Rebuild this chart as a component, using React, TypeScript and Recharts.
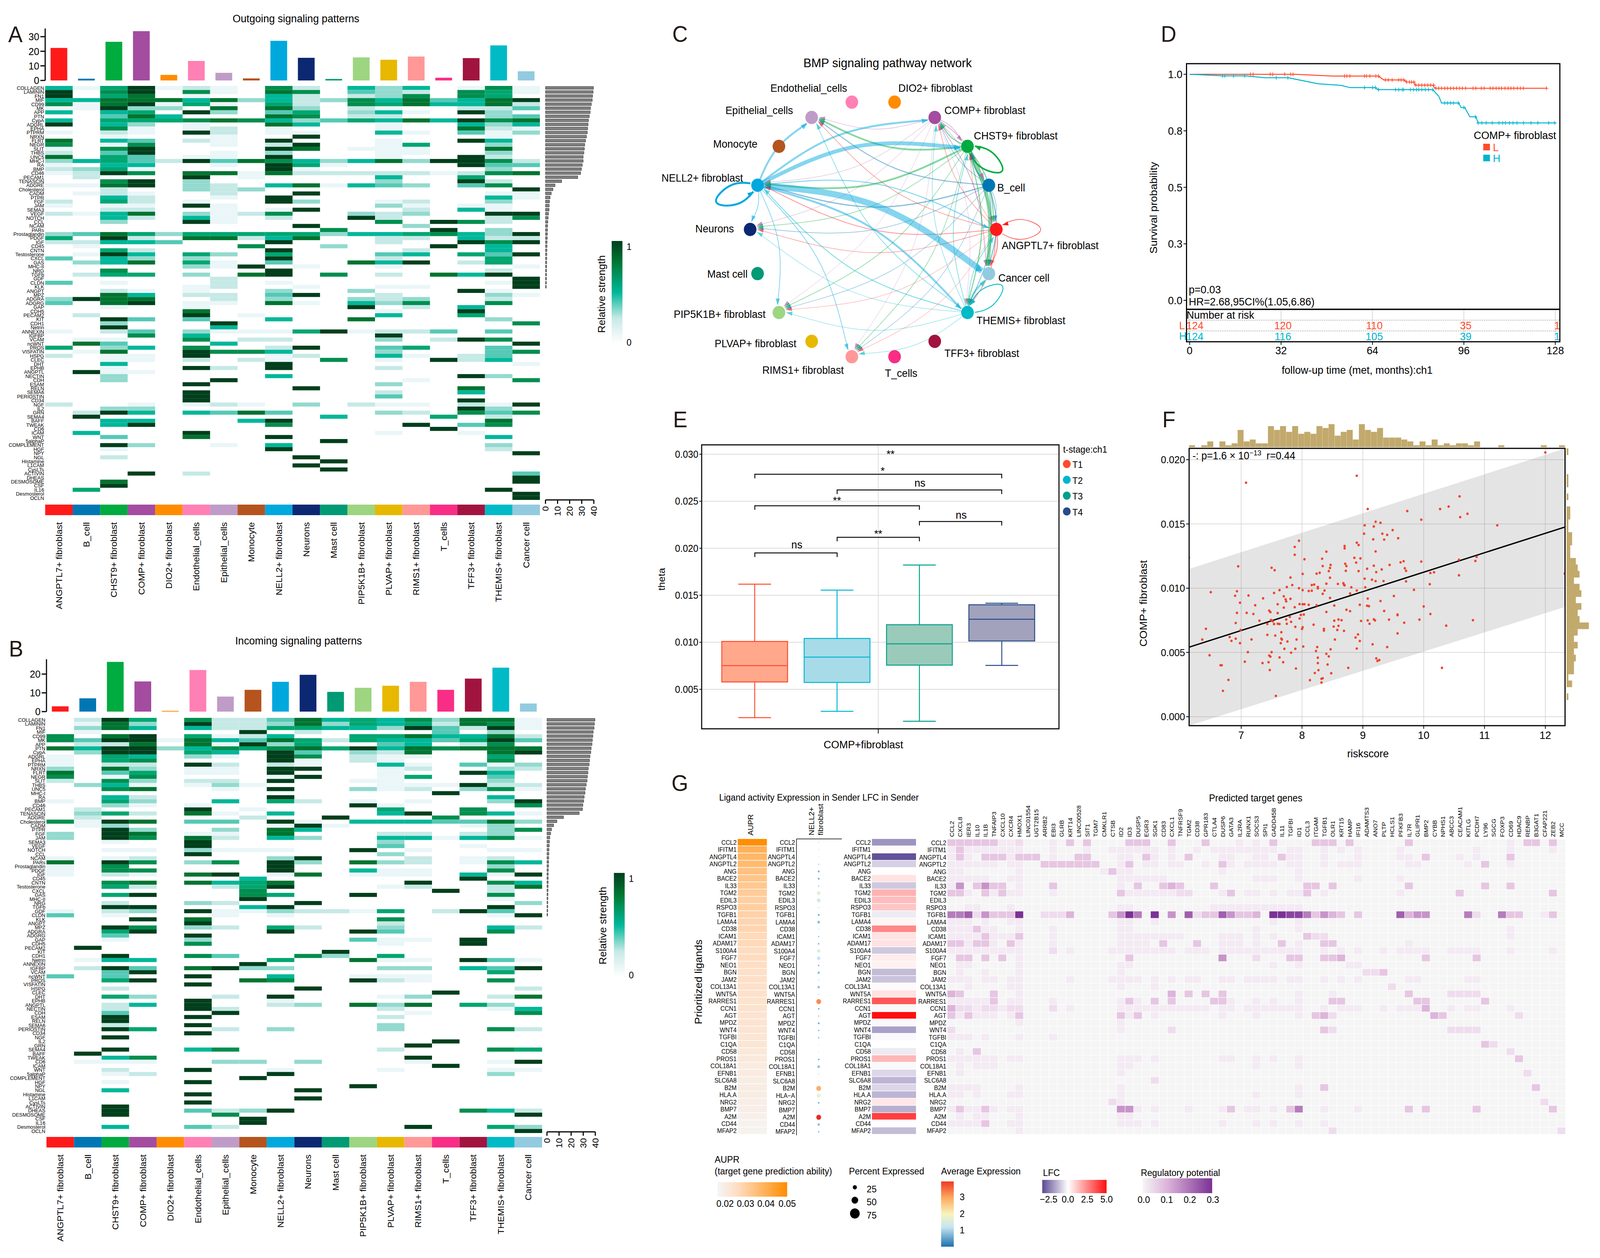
import React from 'react';
import {
  Area, Bar, BarChart, CartesianGrid, Cell, ComposedChart, Line, ReferenceLine,
  Scatter, ScatterChart, XAxis, YAxis,
} from 'recharts';

const FONT = '"Liberation Sans", Arial, sans-serif';
const ZERO = { top: 0, right: 0, bottom: 0, left: 0 };

const cellTypes = [
  'ANGPTL7+ fibroblast', 'B_cell', 'CHST9+ fibroblast', 'COMP+ fibroblast', 'DIO2+ fibroblast',
  'Endothelial_cells', 'Epithelial_cells', 'Monocyte', 'NELL2+ fibroblast', 'Neurons', 'Mast cell',
  'PIP5K1B+ fibroblast', 'PLVAP+ fibroblast', 'RIMS1+ fibroblast', 'T_cells', 'TFF3+ fibroblast',
  'THEMIS+ fibroblast', 'Cancer cell',
];
const cellColors = [
  '#FF1A1A', '#0077B4', '#00AB40', '#A34CA0', '#FF8C00', '#FF80B5', '#BF9CC8', '#B5541E', '#00A8DD',
  '#0C2872', '#009A74', '#9DD581', '#E7B800', '#FF9896', '#F92D85', '#A11440', '#00BAC6', '#92CADF',
];

const pathways = [
  'COLLAGEN', 'LAMININ', 'FN1', 'MIF', 'CD99', 'MK', 'APP', 'PTN', 'CypA', 'ADGRL', 'EPHA', 'PTPRM', 'NRXN',
  'FLRT', 'NEGR', 'SLIT', 'THBS', 'UNC5', 'MHC-I', 'RA', 'BMP', 'CD46', 'PECAM1', 'TENASCIN', 'ADGRE',
  'Cholesterol', 'CADM', 'PTPR', 'FGF', 'JAM', 'SEMA3', 'VEGF', 'NOTCH', 'CCL', 'NCAM', 'PARs', 'Prostaglandin',
  'PDGF', 'IGF', 'CD45', 'CNTN', 'Testosterone', 'CXCL', 'GAS', 'MHC-II', 'NRG', 'TGFb', 'GDF', 'CLDN', 'KLK',
  'ANGPT', 'MPZ', 'ADGRA', 'ADGRG', 'GAP', 'CDH5', 'PECAM2', 'KIT', 'CDH1', 'Netrin', 'ANNEXIN', 'IGFBP', 'VCAM',
  'ncWNT', 'PROS', 'VISFATIN', 'HSPG', 'CLEC', 'DHT', 'EPHB', 'ANGPTL', 'NECTIN', 'CDH', 'ESAM', 'RELN', 'SEMA6',
  'PERIOSTIN', 'CD34', 'NGF', 'IL2', 'GRN', 'SEMA4', 'BAFF', 'TWEAK', 'CD6', 'ICAM', 'WNT', '5alphaP', 'COMPLEMENT',
  'HGF', 'NPY', 'NGL', 'Histamine', 'L1CAM', 'CysLTs', 'ACTIVIN', 'DHEAS', 'DESMOSOME', 'CSF', 'IL16', 'Desmosterol',
  'OCLN',
];

// relative strength per pathway, one character per cell type: . = 0, 1..9 = light to dark
const outgoingRows = [
  '5169121.72.535.171', '9.79.71.87.432.761', '9.68.1..52.237.76.', '558885835237584589', '7189161.62.7685582',
  '11933.8.83.21..224', '5.56.93.46.351.93.', '..485...87.22...34', '5.6667875346585978', '9.53.1..85..1..535',
  '..71.12.1...1..821', '1.21.92.11..51.413', '..1...1..9......1.', '8.54.21.9...1..95.', '7.17..1.29..16..3.',
  '1.79....98.111..8.', '2.49..1.3...11..3.', '8.64.11.9...1..92.', '356429487535839972', '1.55..1.961....944',
  '2361....91......3.', '1297.8818222221278', '.2...9.1....5..6..', '..79.3......3..92.', '1189.32.581543.47.',
  '..2..323.........9', '.121..2..9......11', '..52..1.9.......51', '2.62.1..93..12..3.', '1.11.91.....31.11.',
  '..22..1.19...2.51.', '2158.3127..323..99', '..52.51.2..92...27', '..3..91.....7.972.', '.........9...3....',
  '..........7...9.3.', '348636666635567539', '6.92.88258..22.522', '22554...9...2..979', '.1.....7..3...9.5.',
  '..62....9....2..5.', '.195.63.6...45.649', '4.53.3..9...2...6.', '.358.61.4..859.26.', '.....319.1..1....1',
  '..7.....9.......2.', '.266.3.89.7.2.859.', '......2..........9', '4.1...2.1.......19', '.....12..1..11...9',
  '..21.1..3..3...91.', '..85.22.49..2...31', '3988..2.3..323..2.', '4.89.11.81.537..7.', '..1..1.....9.2.5..',
  '.....8......1..9..', '.2...9.1....5..6..', '..94.4..5..8....3.', '..3...9..........7', '..9...5...........',
  '1.24.3111691224.4.', '...7.5......9.....', '.11..7.22...3.297.', '.84...5..........9', '6.35.7..29..46..4.',
  '.18..9775...3...47', '2.11.9..12..51.24.', '..11.2.21.7.1.925.', '..5.....9........1', '..1..92.9...2.....',
  '.911..............', '..3.....5......93.', '..3...9......1...7', '.....9......3.....', '.........9.....8..',
  '.....9......2..5..', '.....9......4.....', '.....9.........9..', '2..1.121.3.211.219', '..33...........93.',
  '.295.5484...32.747', '.9........5...6.2.', '..55...59.......8.', '..59....7....9.47.', '..............9...',
  '.5...9......1..1..', '..4..8..9.......5.', '..........9.......', '..93..1.5.......3.', '..1.....9.......2.',
  '.................9', '..2......9........', '..........9.......', '.........9........', '..........9.......',
  '...9.2...........4', '.................9', '..8..............9', '..9...............', '.6..............9.',
  '.................9', '.................9',
];
const incomingRows = [
  '.296.7224856573881', '.183.9223836562871', '.385.5226655394291', '.1.....9.2....4.3.', '7.89.6125..6685582',
  '749918548626554694', '.228.81936..45.27.', '859935767869587888', '.399.65.94.328..89', '1.65.31.97.211..6.',
  '1.67....91.21...7.', '1.22.92.21..51.413', '3.83.11.99..12..32', '8.46.11.9...1..95.', '7.17....19..16..4.',
  '2.73.22.9..11...3.', '.351.131....111922', '..78..1.9..312.371', '..............9...', '..52....9.......5.',
  '1.63..5.62.1.1..39', '..31.1.....91....7', '.2...9.1....6..7..', '.362.81.5...59.751', '.2.....2..9...7...',
  '7198.44.91.5554483', '.13.....191....13.', '..93..3.85......37', '3.98.11.8...22.23.', '3.97.82.53..551571',
  '..1..9......3.....', '.....9......4..1..', '..11.3111..9.1..11', '.....9......3.....', '1.12....39...2.12.',
  '8.97.37.93.832.175', '1.7.....9.......3.', '1.77....9..511..7.', '1.21.89.18.111.519', '.......5.......9..',
  '..78.8568....9..75', '..62..269...12..28', '.......7......9.2.', '..69...76..9....7.', '.......9........1.',
  '..2..32..9.......3', '..99...59.......9.', '1.23.91132216.294.', '4.1...1.1.......19', '...9.8......7.....',
  '.....9......2.....', '..97.32.62..3...52', '..69....9..94...7.', '..4..9............', '..1..3.....411.9..',
  '.....7......1..9..', '.9................', '..........9.......', '..9..74..73.6.....', '.155....6..811.941',
  '.......9..........', '.294.8933...33.549', '..49............6.', '4.4..9..5..111....', '..69...87..921..7.',
  '.....9............', '..2......9.......2', '..............9...', '..63..2.9...13..28', '.....9..1.........',
  '..25.9..23.838.63.', '..2..92.....2...15', '..4...9......1...7', '..9..9......2.....', '..9...............',
  '..2..9......3.....', '..96..2.3...3...72', '.....9............', '..9...............', '..............9...',
  '.............9....', '..9..57.....2...76', '.9................', '..57.........9....', '.111..33.3...1..19',
  '..............9...', '..2..9..1...1...11', '..12....9.......3.', '.......9..........', '..1..9............',
  '...........9......', '..5......9........', '.....9............', '.........9........', '.....9............',
  '..9...............', '..9..4239......752', '..9...7..........9', '.......9..........', '.......9..........',
  '..5..42......9..63', '.................9',
];
const strengthPalette = [
  '#FFFFFF', '#EAF6F8', '#C6E9E6', '#93DACE', '#55C9B5', '#00B799', '#00A671', '#008E4E', '#007430', '#003F1C',
];

const outgoingTotals = [22.3, 1.2, 26.5, 33.8, 3.8, 13.4, 5.2, 1.4, 27.2, 15.5, 1, 15.8, 14.2, 16.4, 1.9, 15.3, 24, 6.3];
const incomingTotals = [2.8, 7.1, 26.5, 16.1, 0.4, 22.2, 8, 11.6, 15.9, 19.6, 10.5, 12.7, 13.8, 15.9, 11.6, 17.6, 23.4, 4.3];
const outgoingPathwayTotals = [
  39.7, 39.4, 39, 38.7, 38, 37.3, 37, 36.3, 35.6, 35.3, 34.9, 34.6, 33.9, 33.2, 32.5, 32.2, 31.8, 31.2, 31.2, 30.5, 29.8,
  29.1, 26.7, 13.4, 7.9, 6.2, 4.8, 3.8, 3.4, 3.1, 3, 2.5, 2.2, 2, 1.8, 1.7, 1.6, 1.5, 1.4, 1.3, 1.2, 1.15, 1.1, 1.05, 1, 0.95,
  0.9, 0.85, 0.8, 0.7,
];
const incomingPathwayTotals = [
  39.7, 39.3, 39, 38.3, 38, 37.6, 37.3, 36.6, 36.3, 35.6, 35.2, 34.9, 34.2, 33.9, 33.5, 33.2, 32.5, 31.8, 31.5, 30.8, 30.4,
  29.7, 29.4, 26.7, 13.7, 8.2, 5.5, 3.8, 3.1, 2.4, 2.1, 1.9, 1.7, 1.6, 1.5, 1.4, 1.3, 1.2, 1.1, 1.05, 1, 0.95, 0.9, 0.85, 0.8,
  0.75, 0.7, 0.65, 0.6,
];

// panel C: [sender, receiver, edge width]
const bmpEdges: [number, number, number][] = [
  [0, 6, 1.5], [0, 8, 2], [0, 9, 1.5], [0, 11, 1], [0, 13, 1], [0, 16, 2], [0, 17, 3], [0, 3, 1.5], [0, 2, 1.2],
  [3, 6, 1.2], [3, 8, 1], [3, 9, 1], [3, 11, 0.8], [3, 13, 0.8], [3, 16, 0.8], [3, 17, 2], [3, 0, 1.2], [3, 2, 1.5], [3, 1, 2],
  [16, 6, 1.8], [16, 8, 2.5], [16, 9, 1.2], [16, 11, 1.2], [16, 13, 1.2], [16, 3, 1.5], [16, 2, 2], [16, 17, 5], [16, 0, 2],
  [1, 8, 3], [1, 6, 2.5], [1, 9, 1.5], [1, 11, 1.2], [1, 13, 1.2], [1, 16, 2], [1, 17, 3], [1, 0, 1.5], [1, 2, 4], [1, 3, 1.5],
  [2, 17, 10], [2, 6, 4.5], [2, 8, 4.5], [2, 3, 3], [2, 9, 1.5], [2, 11, 1.5], [2, 13, 1.5], [2, 16, 3], [2, 0, 3],
  [8, 17, 16], [8, 2, 10], [8, 3, 5], [8, 6, 5], [8, 16, 5], [8, 0, 2.5], [8, 9, 2], [8, 11, 2], [8, 13, 2],
];
// [node, direction in degrees, reach, edge width]
const bmpLoops: [number, number, number, number][] = [
  [8, 201, 0.36, 5], [2, -34, 0.34, 4], [0, 0, 0.36, 1.2], [16, 36, 0.35, 2.2],
];

// panel D
const lowCurve = [
  [0, 1], [37, 1], [50, 0.992], [66, 0.992], [68, 0.975], [75, 0.975], [76, 0.966], [78.5, 0.965], [79, 0.952], [85, 0.952],
  [86, 0.938], [125, 0.938],
];
const highCurve = [
  [0, 1], [11.8, 0.993], [19.6, 0.993], [26.3, 0.985], [34.4, 0.985], [45, 0.958], [52.9, 0.951], [56.2, 0.941], [65, 0.941],
  [66, 0.932], [85.1, 0.932], [87.2, 0.903], [88.2, 0.873], [94.2, 0.873], [95, 0.853], [96.3, 0.853], [98.1, 0.812],
  [100.2, 0.812], [101, 0.785], [128.3, 0.785],
];
const lowCensored: [number, number[]][] = [
  [1, [21.3, 22.2, 28.2, 29.1, 33.3, 35.4, 36.2]],
  [0.992, [54.2, 55, 56.1, 61.2, 61.9, 63.1, 65.2, 66.1]],
  [0.975, [68.5, 69.5, 70.9, 73.2, 74, 75]],
  [0.966, [76, 76.9, 77.7, 78.5]],
  [0.952, [79.2, 80.2, 81.3, 82.3, 83.4, 84.4, 85.4]],
  [0.938, [86.2, 87.2, 88.2, 89.3, 90.3, 91.4, 92.4, 93.5, 94.5, 95.5, 96.6, 99.2, 100.2, 102.1, 103.1, 105.2, 106.2, 107.3,
    108.3, 109.2, 110.4, 111.5, 112.5, 113.5, 114.7, 115.8, 116.8, 124.9]],
];
const highCensored: [number, number[]][] = [
  [0.993, [11.5, 12.3, 15.4, 19.3]],
  [0.985, [30.3, 34.4]],
  [0.941, [61.2, 64.1, 65]],
  [0.932, [66.1, 72.1, 73.2, 74.4, 74.9, 77.3, 78.4, 79.4, 80.2, 81.3, 82.5, 83.6, 85.1]],
  [0.873, [89.3, 90.3, 91.4, 92.4, 94]],
  [0.853, [96]],
  [0.812, [100]],
  [0.785, [101, 102.3, 103.8, 105.9, 108.3, 109.6, 110.6, 111.9, 113.2, 114.6, 116.9, 119.5, 121.9, 125.7, 127.8]],
];
const riskTimes = [0, 32, 64, 96, 128];
const riskLow = [124, 120, 110, 35, 1];
const riskHigh = [124, 116, 105, 39, 1];

// panel E: lo, q1, median, q3, hi
const tStages = ['T1', 'T2', 'T3', 'T4'];
const stageLo = [0.00198, 0.00266, 0.0016, 0.00754];
const stageQ1 = [0.00578, 0.00573, 0.00757, 0.01014];
const stageMed = [0.00752, 0.00842, 0.00983, 0.01245];
const stageQ3 = [0.01009, 0.01041, 0.01187, 0.01399];
const stageHi = [0.01618, 0.01555, 0.01822, 0.01416];
const stageStroke = ['#FF4B2B', '#00B5D1', '#00A088', '#274C86'];
const stageFill = ['#FFA88C', '#A7DBE8', '#9ACABA', '#A2A2BD'];
const brackets: [number, number, number][] = [
  [1, 2, 0.0195], [2, 3, 0.02117], [3, 4, 0.02285], [1, 3, 0.02452], [2, 4, 0.0262], [1, 4, 0.02787],
];

// panel F
const riskScore = [
  12, 8.9, 7.08, 10.59, 10.41, 9.08, 10.27, 9.73, 10.72, 10.6, 9.96, 9.21, 9.29, 9.03, 9.18, 11.21, 9.49, 9.02, 9.32, 9.4, 9.58,
  9.17, 9.35, 7.95, 8.9, 8.93, 8.7, 7.88, 8.7, 8.4, 9.21, 7.88, 6.14, 8.33, 8.04, 8.86, 8.96, 10.87, 10.58, 10.85, 9.67, 9.62,
  9.96, 8.89, 8.71, 8.47, 9.44, 9.18, 8.73, 8.34, 6.95, 7.5, 8.46, 9.07, 9.69, 9.31, 7.55, 8.44, 8.72, 8.93, 9.71, 9.22, 10.17,
  10.11, 8.29, 8.24, 8.01, 12.32, 10.58, 8.46, 7.81, 9.03, 9.15, 9.21, 9.34, 9.71, 10.1, 8.4, 8.59, 8.68, 8.69, 8.7, 7.84, 8.16,
  8.2, 7.75, 8.26, 8.26, 8.81, 9.04, 7.95, 8.01, 8.11, 8.16, 8.37, 7.63, 8.9, 9.84, 6.93, 6.5, 7.54, 8.79, 8.34, 6.9, 7.12, 7.7,
  9.51, 7.36, 8.46, 7.73, 7.81, 9.08, 7.74, 9.29, 6.98, 7.96, 7.6, 8.01, 8.04, 8.11, 8.95, 7.23, 8.24, 8.53, 9.07, 9.1, 10, 7.88,
  7.7, 8.73, 7.46, 8.79, 9.35, 7.48, 8.4, 6.93, 7.09, 7.6, 7.2, 10.11, 9.57, 9.57, 7.98, 8.03, 7.8, 7.96, 7.74, 8.6, 9.18, 9.93,
  8.65, 9.43, 7.3, 7.49, 8.53, 8.97, 9.08, 9.2, 10.81, 7.52, 7.82, 6.91, 9.68, 7.43, 7.54, 7.6, 7.63, 7.75, 8.19, 9.11, 10.37,
  8.6, 8.52, 7.89, 8.01, 8, 6.42, 6.99, 8.36, 8.36, 8.58, 8.69, 7.66, 9.57, 8.92, 7.43, 7.56, 6.81, 8.88, 6.91, 7.66, 7.67, 7.17,
  7.91, 8.54, 6.36, 6.84, 7.76, 8.95, 6.98, 7.65, 9.16, 8.02, 8.25, 9.4, 7.71, 7.89, 8.47, 8.9, 8.23, 7.5, 7.11, 7.82, 8.4, 6.48,
  7.46, 7.48, 8.44, 7.63, 8.26, 9.22, 9.27, 9.24, 7.06, 7.45, 7.69, 7.35, 8.26, 8.42, 6.66, 6.68, 8.76, 10.3, 7.9, 7.47, 8.27,
  8.21, 8.48, 6.79, 8.13, 8.34, 8.32, 8.32, 6.7, 7.57,
];
const compTheta = [
  0.02056, 0.01875, 0.01821, 0.01714, 0.01635, 0.01616, 0.01616, 0.016, 0.01579, 0.01553, 0.01533, 0.01517, 0.01509, 0.01489,
  0.0148, 0.01489, 0.01452, 0.01424, 0.01424, 0.01415, 0.01389, 0.0138, 0.01378, 0.01369, 0.01354, 0.01336, 0.01328, 0.01321,
  0.0131, 0.01284, 0.01286, 0.0126, 0.01238, 0.01229, 0.01225, 0.01236, 0.01232, 0.01244, 0.01221, 0.01212, 0.0121, 0.01201,
  0.01207, 0.01199, 0.0119, 0.01181, 0.01181, 0.01175, 0.01172, 0.01172, 0.0117, 0.01159, 0.01157, 0.01151, 0.01155, 0.01146,
  0.0114, 0.01133, 0.01135, 0.01133, 0.01135, 0.01125, 0.01124, 0.01118, 0.0112, 0.01113, 0.01111, 0.01114, 0.011, 0.01081,
  0.01083, 0.01074, 0.01066, 0.01055, 0.01055, 0.01053, 0.01031, 0.01035, 0.01033, 0.01039, 0.01026, 0.01022, 0.01024, 0.01024,
  0.01028, 0.01009, 0.01009, 0.00998, 0.01007, 0.01007, 0.01, 0.00985, 0.00978, 0.0098, 0.00982, 0.00985, 0.00982, 0.00987,
  0.00976, 0.00969, 0.00963, 0.00959, 0.00956, 0.00941, 0.00943, 0.00937, 0.00939, 0.00921, 0.00924, 0.00913, 0.00917, 0.00919,
  0.00897, 0.009, 0.00887, 0.00876, 0.00875, 0.00875, 0.00875, 0.00871, 0.00871, 0.00867, 0.00867, 0.00865, 0.00863, 0.0086,
  0.00858, 0.00852, 0.00849, 0.00832, 0.00825, 0.00821, 0.00823, 0.00814, 0.00815, 0.00808, 0.00808, 0.00806, 0.00799, 0.00799,
  0.00795, 0.0079, 0.00792, 0.00795, 0.00777, 0.00764, 0.00756, 0.00756, 0.00758, 0.00755, 0.00751, 0.00755, 0.00747, 0.00753,
  0.00747, 0.00745, 0.00749, 0.00749, 0.00751, 0.00742, 0.00738, 0.00729, 0.00731, 0.00721, 0.00721, 0.00723, 0.00721, 0.00723,
  0.00716, 0.00723, 0.00708, 0.00707, 0.00701, 0.00699, 0.00696, 0.00683, 0.00684, 0.00675, 0.00683, 0.0067, 0.00675, 0.00668,
  0.00657, 0.00648, 0.0064, 0.00637, 0.00631, 0.0062, 0.00616, 0.00607, 0.00607, 0.006, 0.00601, 0.006, 0.006, 0.006, 0.0059,
  0.00585, 0.00589, 0.00572, 0.00572, 0.00563, 0.00546, 0.00542, 0.00542, 0.00528, 0.00528, 0.00524, 0.0053, 0.00511, 0.00502,
  0.00502, 0.00498, 0.00489, 0.00478, 0.00476, 0.00467, 0.00469, 0.00461, 0.00459, 0.00454, 0.00441, 0.00434, 0.00428, 0.00424,
  0.00424, 0.00417, 0.00417, 0.00406, 0.004, 0.004, 0.0038, 0.0038, 0.00375, 0.00363, 0.00362, 0.0034, 0.00338, 0.00286, 0.00284,
  0.00299, 0.00295, 0.00266, 0.00201, 0.00162,
];
const fitBand = [
  { x: 6.144, band: [-0.0007, 0.0115], fit: 0.00541 },
  { x: 12.324, band: [0.00854, 0.02087], fit: 0.01476 },
];
const riskHistogram = [
  1, 0, 1, 3, 0, 3, 1, 2, 9, 3, 4, 2, 2, 11, 9, 11, 8, 11, 7, 8, 7, 11, 10, 12, 6, 8, 9, 4, 12, 9, 8, 10, 5, 5, 5, 4, 3, 1, 3, 1,
  4, 1, 2, 1, 2, 2, 1, 3, 0, 0, 0, 1, 0, 0, 0, 0, 0, 0, 1, 0, 0, 1,
];
const thetaHistogram = [
  1, 0, 0, 0, 1, 1, 0, 1, 0, 2, 2, 1, 1, 3, 3, 2, 2, 5, 6, 7, 4, 7, 8, 5, 8, 6, 7, 12, 6, 4, 6, 4, 5, 4, 4, 1, 3, 0, 1, 0, 0, 0, 0,
];

// panel G
const ligands = [
  'CCL2', 'IFITM1', 'ANGPTL4', 'ANGPTL2', 'ANG', 'BACE2', 'IL33', 'TGM2', 'EDIL3', 'RSPO3', 'TGFB1', 'LAMA4', 'CD38', 'ICAM1',
  'ADAM17', 'S100A4', 'FGF7', 'NEO1', 'BGN', 'JAM2', 'COL13A1', 'WNT5A', 'RARRES1', 'CCN1', 'AGT', 'MPDZ', 'WNT4', 'TGFBI', 'C1QA',
  'CD58', 'PROS1', 'COL18A1', 'EFNB1', 'SLC6A8', 'B2M', 'HLA.A', 'NRG2', 'BMP7', 'A2M', 'CD44', 'MFAP2',
];
const auprValues = [
  0.0535, 0.043, 0.041, 0.04, 0.038, 0.037, 0.036, 0.035, 0.034, 0.034, 0.033, 0.032, 0.032, 0.031, 0.031, 0.03, 0.03, 0.029, 0.028,
  0.028, 0.027, 0.027, 0.026, 0.026, 0.025, 0.025, 0.025, 0.024, 0.024, 0.023, 0.022, 0.021, 0.021, 0.02, 0.02, 0.02, 0.019, 0.019,
  0.018, 0.017, 0.017,
];
const percentExpressed = [
  8, 8, 6, 12, 25, 25, 13, 50, 50, 10, 25, 35, 8, 15, 20, 45, 45, 20, 32, 10, 32, 10, 65, 20, 13, 25, 17, 17, 7, 7, 22, 35, 9, 6, 65,
  55, 20, 6, 65, 30, 17,
];
const averageExpression = [
  0.7, 0.7, 0.7, 0.7, 0.8, 0.8, 0.7, 1.9, 1.6, 0.7, 0.8, 0.95, 0.7, 0.7, 0.8, 1.7, 1.3, 0.8, 1, 0.7, 1, 0.7, 3.3, 0.7, 0.7, 0.8, 0.7,
  0.7, 0.7, 0.7, 0.8, 1, 0.7, 0.7, 3, 2, 0.7, 0.7, 3.8, 0.9, 0.7,
];
const lfcValues = [
  -1.6, 0.1, -2.6, -0.7, 0.05, 0.6, -0.8, 1.6, 1.4, 1.2, -0.3, 0.2, 2.5, 0.6, 0.6, -0.8, 0.4, 0.3, -1, -0.9, 0.1, 0.6, 3.5, -0.1, 5,
  -0.1, -1.4, -0.1, 0, -0.3, 1.5, -0.1, -0.6, -1.1, -0.6, -1.1, 0.5, -1.2, 4, 0.05, -1,
];
const targetGenes = [
  'CCL2', 'CXCL8', 'IER3', 'IL10', 'IL1B', 'TNFAIP3', 'CXCL10', 'CXCR4', 'HMOX1', 'LINC01554', 'UGT2B15', 'ARRB2', 'EBI3', 'GLRB',
  'KRT14', 'LINC00528', 'SIT1', 'TGM7', 'CMKLR1', 'CTSB', 'ID2', 'ID3', 'DUSP5', 'EGR3', 'SGK1', 'CD83', 'CXCL1', 'TNFRSF9', 'TGM2',
  'CD38', 'GPR183', 'CTLA4', 'DUSP6', 'GATA3', 'IL2RA', 'RUNX1', 'SOCS3', 'SPI1', 'GADD45B', 'IL11', 'TGFBI', 'ID1', 'CCL3', 'ITGAM',
  'TGFB1', 'OLR1', 'KRT15', 'HAMP', 'IFI16', 'ADAMTS3', 'ANO7', 'PLTP', 'HCLS1', 'PFKFB3', 'IL7R', 'GLIPR1', 'BMP2', 'CYBB', 'NPHS1',
  'ABCC3', 'CEACAM1', 'KITLG', 'PCDH7', 'LY96', 'SGCG', 'FOXP3', 'CD69', 'HDAC9', 'RENBP', 'B3GAT1', 'CFAP221', 'ZEB2', 'MCC',
];
// one line per ligand, gene index:level for every cell that is not empty
const regulatoryRows = [
  '0:3 1:3 2:3 3:3 4:3 5:3 6:1 7:1 8:2 12:1 14:3 16:3 21:3 22:3 23:3 26:3 30:3 34:1 36:1 38:3 43:3 44:3 45:3 47:3 54:3 66:1 68:3 69:3 71:3',
  '0:1 1:3 2:1 3:1 4:1 5:1 6:1 7:1 8:1 12:1 16:1 19:1 20:1 21:1 22:1 23:1 24:1 26:1 29:1 31:1 32:1 33:1 34:1 35:1 36:1 37:1 38:1 40:1 41:1 44:1 46:1 48:1 53:1 62:1 66:1 71:1',
  '0:1 1:3 2:1 4:3 5:3 6:3 7:1 8:3 9:3 10:3 12:1 15:3 16:3 20:1 21:1 23:3 24:1 26:1 28:3 32:1 33:1 36:1 37:1 39:3 40:1 41:1 44:1 48:1 53:1 54:1 56:3 60:1 62:1 66:3',
  '0:1 1:1 2:1 3:1 4:1 5:1 7:1 8:1 11:3 12:3 13:3 14:3 15:3 16:3 17:3 20:1 21:3 23:1 24:1 26:1 27:1 30:1 32:3 33:1 35:1 36:1 37:1 38:1 40:1 41:1 44:1 46:1 47:1 48:1 54:1 55:1 61:1 63:3 66:1',
  '0:1 1:1 8:1 18:1 19:3 20:1 21:1 32:1 41:1',
  '0:1 1:1 2:1 3:1 4:1 7:1 8:1 20:1 21:1 22:1 23:1 24:1 25:1 36:1 37:1 38:1 41:1 48:1 53:1',
  '0:1 1:5 3:3 4:5 5:3 6:3 8:1 12:3 20:1 22:3 25:3 26:4 27:3 31:3 42:3 43:3 45:3 54:3 63:3 66:3',
  '0:3 1:3 2:1 4:3 5:1 6:3 7:1 8:1 12:1 20:3 21:1 22:1 23:1 24:1 25:1 26:1 27:2 28:2 32:1 33:3 35:1 36:1 38:1 40:1 41:1 42:3 44:1 53:1 60:3 71:3',
  '',
  '2:1 3:1 7:1 20:1 21:1 31:1 32:1 33:1 34:1 35:1 36:1 37:1 38:1 39:1 40:1 41:1',
  '0:6 1:6 2:7 3:2 4:5 5:3 6:3 7:3 8:9 11:2 12:2 13:2 14:4 19:3 20:5 21:9 22:6 24:9 26:5 28:7 29:2 30:3 31:3 32:7 33:5 34:3 35:3 36:4 38:9 39:9 40:8 41:8 42:6 43:3 44:5 45:4 46:3 48:3 53:7 54:4 55:5 56:5 61:6 62:2 65:6 66:3 67:3 70:1 71:3',
  '0:1 1:1 2:1 4:1 7:1 8:1 20:1 21:1 24:1 38:1 41:1',
  '0:1 1:1 2:1 3:3 4:1 5:1 8:1 12:1 20:1 21:1 36:1 41:1 66:1',
  '0:1 1:1 2:1 3:1 4:3 5:1 6:1 7:1 8:3 12:1 20:1 21:1 22:1 23:1 24:1 25:1 26:1 27:1 32:1 33:1 34:1 36:1 38:1 42:3 43:2 44:2 66:1',
  '0:3 1:3 2:1 3:3 4:3 5:1 7:3 8:1 12:1 20:1 21:1 22:1 23:1 25:3 29:3 32:1 33:1 34:1 36:1 39:3 41:1 44:3 45:3 54:1',
  '0:1 1:1 2:1 3:1 4:1 5:1 6:1 7:1 8:1 12:2 14:1 19:1 20:1 21:1 22:1 23:1 24:1 25:1 26:1 28:1 29:1 30:1 32:1 33:1 34:1 35:1 36:1 37:1 38:1 39:1 40:1 41:1 44:1 46:1 48:1 51:1 53:1 54:1 55:1 56:1 59:1 60:1 61:1 62:1 66:1 71:1',
  '1:3 2:3 4:3 6:3 8:1 21:3 32:5 36:2 40:3 41:3 44:3 45:3 46:4 56:3 62:3',
  '1:1 2:1 8:1 20:1 21:1 38:1 41:1 47:1 48:1',
  '1:1 4:1 8:1 20:1 49:2 50:2 51:3',
  '0:1 1:1 2:1 4:1 5:1 7:1 8:1 14:1 19:1 20:1 21:1 22:1 24:1 26:1 28:1 29:1 32:1 33:1 35:1 36:1 37:1 38:1 40:1 41:1 44:1 46:1 48:1 54:1 55:1 61:1 62:1',
  '2:1 7:1 8:1 20:1 24:1 52:2',
  '0:4 1:3 5:3 8:1 26:4 28:3 30:3 32:3 41:1 45:1 54:3 59:2 60:2 61:2 62:2',
  '0:1 1:1 2:1 3:1 4:1 5:3 7:1 8:1 12:1 20:1 21:3 22:1 24:3 26:3 31:3 32:3 33:1 36:1 38:1 41:1 45:3 46:3 55:3 56:3 63:3',
  '0:4 1:2 2:2 3:1 4:2 5:2 6:1 7:2 8:2 12:2 14:1 20:1 21:1 22:1 23:1 24:1 25:1 26:1 27:1 28:1 29:1 30:1 32:1 33:1 35:1 36:1 37:1 38:1 39:1 40:1 41:1 44:1 46:1 47:1 48:1 51:1 53:1 54:1 55:1 56:4 59:1 61:1 62:1 66:1',
  '0:3 1:1 2:3 3:1 4:1 5:1 7:1 8:3 20:3 21:1 22:3 24:1 32:1 36:1 41:1 43:3 44:4 45:2 57:4 58:3 67:2',
  '8:1 20:1',
  '0:2 20:1 26:2 44:3 45:2 59:2 60:2 61:2 62:2',
  '0:1 1:1 2:1 4:1 8:1 12:1',
  '63:3 64:2',
  '1:1 3:3 66:2',
  '0:1 1:1 2:1 3:1 4:1 5:1 7:1 8:1 20:1 21:1 22:1 24:1 32:1 33:1 36:1 38:1 41:1 67:3',
  '1:1 3:1 4:1 5:1 20:1 21:1 36:1 41:1',
  '1:1 20:1 68:2',
  '24:2',
  '0:1 1:1 2:1 3:1 8:1 20:1 41:1 44:3 69:3',
  '0:1 1:1 3:1 7:1 8:1 20:1 36:1 41:1',
  '19:2 20:1 70:2',
  '0:1 1:3 2:1 3:1 4:3 5:1 7:1 8:1 20:5 21:5 22:1 24:1 28:1 32:1 33:3 35:1 36:1 38:1 40:3 41:6 44:1 48:1 54:3 56:3 62:3 71:3',
  '1:1 3:1 4:1 8:1 20:1 21:1',
  '0:1 1:1 2:1 3:1 4:3 7:1 8:1 20:1 21:1 22:1 24:1 32:1 36:1 38:1 41:1 44:1',
  '8:1 45:2 72:2',
];
const regulatoryPalette = [
  '#F5F5F5', '#F3EAF3', '#EFDDEE', '#E6C6E2', '#DDB4DA', '#C794C9', '#B57DBB', '#A05FAC', '#8A45A0', '#7B3294',
];

const hex = (c: string) => [1, 3, 5].map((i) => parseInt(c.slice(i, i + 2), 16));
const mix = (a: string, b: string, t: number) => {
  const [p, q] = [hex(a), hex(b)];
  return `rgb(${p.map((v, i) => Math.round(v + (q[i] - v) * Math.min(1, Math.max(0, t)))).join(',')})`;
};
const auprColor = (v: number) =>
  v < 0.03 ? mix('#F5F5F5', '#FFDCC0', (v - 0.015) / 0.015) : mix('#FFDCC0', '#FF8C00', (v - 0.03) / 0.024);
const lfcColor = (v: number) => (v < 0 ? mix('#FFFFFF', '#5C4A94', -v / 2.7) : mix('#FFFFFF', '#FF0F0F', v / 5));
const exprColor = (v: number) => {
  if (v < 1.3) return mix('#2E86BD', '#C5E5F2', (v - 0.4) / 0.9);
  if (v < 2.2) return mix('#C5E5F2', '#F2F4CF', (v - 1.3) / 0.9);
  if (v < 3.2) return mix('#F2F4CF', '#FD9F5C', (v - 2.2) / 1);
  return mix('#FD9F5C', '#E72B20', (v - 3.2) / 0.6);
};

const levelCells = (rows: string[]) =>
  rows.flatMap((row, r) =>
    [...row].flatMap((ch, c) => (ch === '.' ? [] : [{ x: c + 0.5, y: r + 0.5, fill: strengthPalette[Number(ch)] }])),
  );
const regulatoryCells = regulatoryRows.flatMap((row, r) => {
  const levels: Record<string, number> = {};
  row.split(' ').filter(Boolean).forEach((s) => {
    const [g, l] = s.split(':');
    levels[g] = Number(l);
  });
  return targetGenes.map((_, c) => ({ x: c + 0.5, y: r + 0.5, fill: regulatoryPalette[levels[c] ?? 0] }));
});

const Box = ({ l, t, children }: any) => <div style={{ position: 'absolute', left: l, top: t }}>{children}</div>;

// grid of coloured cells with row labels on the left and optional rotated labels on top
const CellChart = ({ l, t, w, h, labelW, rows, cols, cells, gap = 0, font = 13.5, colNames, headH = 0, names }: any) => {
  const cw = (w - labelW) / cols;
  const ch = (h - headH) / rows.length;
  const ticks = rows.map((_: string, i: number) => i + 0.5);
  return (
    <Box l={l} t={t - 8}>
      <ScatterChart width={w} height={h + 16} margin={{ top: 8, right: 0, bottom: 8, left: 0 }}>
        <XAxis
          type="number"
          dataKey="x"
          domain={[0, cols]}
          hide={!colNames}
          orientation="top"
          height={headH}
          ticks={colNames ? colNames.map((_: string, i: number) => i + 0.5) : undefined}
          interval={0}
          axisLine={false}
          tickLine={false}
          tickSize={0}
          tick={(p: any) => (
            <text
              x={p.x}
              y={p.y - 4}
              dy="0.35em"
              fontSize={16}
              textAnchor="start"
              transform={`rotate(-90 ${p.x} ${p.y - 4})`}
            >
              {colNames?.[Math.floor(p.payload.value)]}
            </text>
          )}
        />
        <YAxis
          type="number"
          dataKey="y"
          reversed
          domain={[0, rows.length]}
          width={labelW}
          ticks={ticks}
          interval={0}
          axisLine={false}
          tickLine={false}
          tickSize={0}
          tickMargin={3}
          tick={{ fontSize: font, fill: '#000' }}
          tickFormatter={(v: number) => (names ?? rows)[Math.floor(v)]}
        />
        <Scatter
          data={cells}
          isAnimationActive={false}
          shape={(p: any) => (
            <rect x={p.cx - cw / 2} y={p.cy - ch / 2} width={cw - gap} height={ch - gap} fill={p.payload.fill} />
          )}
        />
      </ScatterChart>
    </Box>
  );
};

const TotalsBars = ({ plotLeft, plotRight, top, zero, max, values, ticks }: any) => (
  <Box l={0} t={top}>
    <BarChart
      width={plotRight}
      height={zero - top + 20}
      margin={{ top: 0, right: 0, bottom: 20, left: 0 }}
      data={cellTypes.map((name, i) => ({ name, value: values[i] }))}
      barCategoryGap="19.5%"
    >
      <XAxis dataKey="name" hide />
      <YAxis
        width={plotLeft}
        domain={[0, max]}
        ticks={ticks}
        interval={0}
        tick={{ fontSize: 26, fill: '#000' }}
        tickSize={13}
        tickMargin={3}
        axisLine={{ stroke: '#000', strokeWidth: 3 }}
        tickLine={{ stroke: '#000', strokeWidth: 3 }}
      />
      <Bar dataKey="value" isAnimationActive={false}>
        {cellColors.map((c) => <Cell key={c} fill={c} />)}
      </Bar>
    </BarChart>
  </Box>
);

const PathwayBars = ({ x0, top, height, values }: any) => (
  <Box l={x0 - 10} t={top}>
    <BarChart
      layout="vertical"
      width={160}
      height={height + 50}
      margin={{ top: 0, right: 20, bottom: 0, left: 10 }}
      data={pathways.map((name, i) => ({ name, value: values[i] ?? 0 }))}
      barCategoryGap="15%"
    >
      <XAxis
        type="number"
        domain={[0, 40]}
        ticks={[0, 10, 20, 30, 40]}
        interval={0}
        height={50}
        axisLine={{ stroke: '#000', strokeWidth: 3 }}
        tickLine={{ stroke: '#000', strokeWidth: 3 }}
        tickSize={10}
        tick={(p: any) => (
          <text x={p.x} y={p.y + 4} dy="0.35em" fontSize={23} textAnchor="end" transform={`rotate(-90 ${p.x} ${p.y + 4})`}>
            {p.payload.value}
          </text>
        )}
      />
      <YAxis
        type="category"
        dataKey="name"
        width={0}
        tick={false}
        tickLine={false}
        axisLine={{ stroke: '#000', strokeWidth: 2, strokeDasharray: '5 3' }}
      />
      <Bar dataKey="value" fill="#7F7F7F" stroke="#333" strokeWidth={1} isAnimationActive={false} />
    </BarChart>
  </Box>
);

const TypeStrip = ({ plotLeft, plotRight, top }: any) => (
  <Box l={0} t={top}>
    <BarChart
      width={plotRight}
      height={270}
      margin={{ top: 0, right: 0, bottom: 0, left: plotLeft }}
      data={cellTypes.map((name) => ({ name, value: 1 }))}
      barCategoryGap={0}
    >
      <XAxis
        dataKey="name"
        interval={0}
        height={243}
        axisLine={false}
        tickLine={false}
        tickSize={0}
        tick={(p: any) => (
          <text x={p.x} y={p.y + 16} dy="0.35em" fontSize={23.5} textAnchor="end" transform={`rotate(-90 ${p.x} ${p.y + 16})`}>
            {p.payload.value}
          </text>
        )}
      />
      <YAxis hide domain={[0, 1]} />
      <Bar dataKey="value" isAnimationActive={false}>
        {cellColors.map((c) => <Cell key={c} fill={c} />)}
      </Bar>
    </BarChart>
  </Box>
);

// network layout: 18 nodes evenly round a unit circle, 331 px per unit
const UNIT = 331;
const nodeAt = (i: number) => ({
  x: Math.cos((i * 20 * Math.PI) / 180),
  y: Math.sin((i * 20 * Math.PI) / 180),
});
const edgePath = (from: number, to: number) => {
  const a = nodeAt(from);
  const b = nodeAt(to);
  const dx = b.x - a.x;
  const dy = b.y - a.y;
  const len = Math.hypot(dx, dy);
  const trim = 20 / UNIT;
  const end = { x: b.x - (dx / len) * trim, y: b.y - (dy / len) * trim };
  // curved to the same side of the travel direction on every edge
  const mid = { x: (a.x + end.x) / 2 - dy * 0.09, y: (a.y + end.y) / 2 + dx * 0.09 };
  return [a, mid, end];
};
const loopPath = (node: number, deg: number, reach: number) => {
  const p = nodeAt(node);
  const at = (off: number, r: number) => ({
    x: p.x + Math.cos(((deg + off) * Math.PI) / 180) * r,
    y: p.y + Math.sin(((deg + off) * Math.PI) / 180) * r,
  });
  return [at(-35, 0.06), at(-20, reach * 0.62), at(0, reach), at(20, reach * 0.62), at(35, 0.06)];
};

const arrowDot = (pts: any[], color: string, width: number, opacity: number) => (p: any) => {
  if (p.index !== pts.length - 1) return <g key={p.key} />;
  const [a, b] = [pts[pts.length - 2], pts[pts.length - 1]];
  const angle = (Math.atan2(-(b.y - a.y), b.x - a.x) * 180) / Math.PI;
  const half = 5 + width * 0.35;
  return (
    <polygon
      key={p.key}
      points={`0,0 -16,${-half} -16,${half}`}
      transform={`translate(${p.cx} ${p.cy}) rotate(${angle})`}
      fill={color}
      fillOpacity={opacity}
    />
  );
};

const NetworkChart = () => {
  const reach = 1.4;
  const size = reach * 2 * UNIT;
  const nodes = cellTypes.map((name, i) => ({ ...nodeAt(i), name, fill: cellColors[i] }));
  return (
    <Box l={2348 - size / 2} t={587 - size / 2}>
      <ComposedChart width={size} height={size} margin={ZERO}>
        <XAxis type="number" dataKey="x" domain={[-reach, reach]} hide />
        <YAxis type="number" dataKey="y" domain={[-reach, reach]} hide />
        {bmpEdges.map(([from, to, w]) => {
          const pts = edgePath(from, to);
          return (
            <Line
              key={`${from}-${to}`}
              data={pts}
              dataKey="y"
              type="natural"
              stroke={cellColors[from]}
              strokeOpacity={0.48}
              strokeWidth={w}
              dot={arrowDot(pts, cellColors[from], w, 0.6)}
              activeDot={false}
              legendType="none"
              isAnimationActive={false}
            />
          );
        })}
        {bmpLoops.map(([node, deg, r, w]) => {
          const pts = loopPath(node, deg, r);
          return (
            <Line
              key={`loop-${node}`}
              data={pts}
              dataKey="y"
              type="natural"
              stroke={cellColors[node]}
              strokeWidth={w}
              dot={arrowDot(pts, cellColors[node], w, 1)}
              activeDot={false}
              legendType="none"
              isAnimationActive={false}
            />
          );
        })}
        <Scatter
          data={nodes}
          isAnimationActive={false}
          shape={(p: any) => <circle cx={p.cx} cy={p.cy} r={17} fill={p.payload.fill} />}
        />
      </ComposedChart>
    </Box>
  );
};

const censorShape = (color: string) => (p: any) => (
  <path d={`M${p.cx - 5} ${p.cy}H${p.cx + 5}M${p.cx} ${p.cy - 5}V${p.cy + 5}`} stroke={color} strokeWidth={1.8} fill="none" />
);
const toPoints = (pairs: number[][]) => pairs.map(([x, y]) => ({ x, y }));
const censorPoints = (groups: [number, number[]][]) => groups.flatMap(([y, xs]) => xs.map((x) => ({ x, y })));

const LOW = '#FF4B2B';
const HIGH = '#00B4CC';

const SurvivalChart = () => (
  <>
    <Box l={3091} t={163}>
      <ComposedChart width={1104} height={629} margin={ZERO}>
        <XAxis type="number" dataKey="x" domain={[-1.1, 129.6]} hide />
        <YAxis
          type="number"
          dataKey="y"
          width={100}
          domain={[-0.0397, 1.047]}
          ticks={[0, 0.25, 0.5, 0.75, 1]}
          interval={0}
          allowDataOverflow
          tickFormatter={(v: number) => v.toFixed(1)}
          tick={{ fontSize: 28, fill: '#000' }}
          tickSize={8}
          tickMargin={3}
          axisLine={false}
          tickLine={{ stroke: '#000', strokeWidth: 2 }}
        />
        <Line data={toPoints(lowCurve)} dataKey="y" stroke={LOW} strokeWidth={2.5} dot={false} activeDot={false} isAnimationActive={false} />
        <Line data={toPoints(highCurve)} dataKey="y" stroke={HIGH} strokeWidth={2.5} dot={false} activeDot={false} isAnimationActive={false} />
        <Scatter data={censorPoints(lowCensored)} shape={censorShape(LOW)} isAnimationActive={false} />
        <Scatter data={censorPoints(highCensored)} shape={censorShape(HIGH)} isAnimationActive={false} />
      </ComposedChart>
    </Box>
    <Box l={3091} t={792}>
      <ScatterChart width={1104} height={133} margin={{ top: 0, right: 0, bottom: 0, left: 100 }}>
        <XAxis
          type="number"
          dataKey="x"
          domain={[-1.1, 129.6]}
          ticks={riskTimes}
          interval={0}
          height={50}
          tick={{ fontSize: 28, fill: '#000' }}
          tickSize={8}
          tickMargin={4}
          axisLine={false}
          tickLine={{ stroke: '#000', strokeWidth: 2 }}
        />
        <YAxis type="number" dataKey="y" hide domain={[0, 3]} />
        {[1, 2].map((y) => <ReferenceLine key={y} y={y} stroke="#999" strokeWidth={2} strokeDasharray="2 3" />)}
        {riskTimes.map((x) => <ReferenceLine key={x} x={x} stroke="#999" strokeWidth={2} strokeDasharray="2 3" />)}
        {[riskLow, riskHigh].map((counts, s) => (
          <Scatter
            key={s}
            data={counts.map((n, i) => ({ x: riskTimes[i], y: s === 0 ? 1.5 : 0.5, n }))}
            isAnimationActive={false}
            shape={(p: any) => (
              <text
                x={p.cx + (p.payload.x === 0 ? 14 : 5)}
                y={p.cy}
                dy="0.35em"
                fontSize={28}
                textAnchor="middle"
                fill={s === 0 ? LOW : HIGH}
              >
                {p.payload.n}
              </text>
            )}
          />
        ))}
      </ScatterChart>
    </Box>
  </>
);

const boxRows = tStages.map((stage, i) => ({
  stage,
  range: [stageLo[i], stageHi[i]],
  lo: stageLo[i], q1: stageQ1[i], med: stageMed[i], q3: stageQ3[i], hi: stageHi[i],
  stroke: stageStroke[i],
  fill: stageFill[i],
}));
const thetaDomain = [0.0008, 0.031];

const BoxShape = (p: any) => {
  const { x, y, width, height, payload: d } = p;
  const at = (v: number) => y + ((d.hi - v) / (d.hi - d.lo)) * height;
  const cx = x + width / 2;
  return (
    <g stroke={d.stroke} strokeWidth={2.5} fill="none">
      <path d={`M${cx - 44} ${at(d.hi)}H${cx + 44}M${cx} ${at(d.hi)}V${at(d.q3)}M${cx} ${at(d.q1)}V${at(d.lo)}M${cx - 44} ${at(d.lo)}H${cx + 44}`} />
      <rect x={x} y={at(d.q3)} width={width} height={at(d.q1) - at(d.q3)} fill={d.fill} />
      <path d={`M${x} ${at(d.med)}H${x + width}`} />
    </g>
  );
};

const ThetaChart = () => (
  <>
    <Box l={1787} t={1139}>
      <ComposedChart width={1061} height={727} margin={ZERO} data={boxRows} barCategoryGap="10%">
        <CartesianGrid vertical={false} stroke="#DED9D9" strokeWidth={2} />
        <XAxis dataKey="stage" hide padding={{ left: 32, right: 43 }} />
        <YAxis
          width={100}
          domain={thetaDomain}
          ticks={[0.005, 0.01, 0.015, 0.02, 0.025, 0.03]}
          interval={0}
          allowDataOverflow
          tickFormatter={(v: number) => v.toFixed(3)}
          tick={{ fontSize: 25, fill: '#000' }}
          tickSize={6}
          tickMargin={3}
          axisLine={false}
          tickLine={{ stroke: '#000', strokeWidth: 2 }}
        />
        <Bar dataKey="range" shape={BoxShape} isAnimationActive={false} />
      </ComposedChart>
    </Box>
    <Box l={1887} t={1139}>
      <ComposedChart width={961} height={747} margin={ZERO}>
        <XAxis
          type="number"
          dataKey="x"
          domain={[1 + (1887 - 2030) / 221.3, 4 + (2848 - 2694) / 221.3]}
          ticks={[2.5]}
          height={20}
          tickFormatter={() => ''}
          tickSize={12}
          axisLine={false}
          tickLine={{ stroke: '#000', strokeWidth: 2 }}
        />
        <YAxis type="number" dataKey="y" hide domain={thetaDomain} />
        <ReferenceLine x={2.5} stroke="#DED9D9" strokeWidth={2} />
        {brackets.map(([a, b, y]) => (
          <Line
            key={`${a}-${b}`}
            data={[{ x: a, y: y - 0.00043 }, { x: a, y }, { x: b, y }, { x: b, y: y - 0.00043 }]}
            dataKey="y"
            stroke="#111"
            strokeWidth={2.5}
            dot={false}
            activeDot={false}
            isAnimationActive={false}
          />
        ))}
      </ComposedChart>
    </Box>
  </>
);

const CorrelationChart = () => (
  <>
    <Box l={3098} t={1148}>
      <ComposedChart width={1111} height={760} margin={ZERO} data={fitBand}>
        <CartesianGrid stroke="#D3CDCD" strokeWidth={1.5} />
        <XAxis
          type="number"
          dataKey="x"
          domain={[6.144, 12.324]}
          ticks={[7, 8, 9, 10, 11, 12]}
          interval={0}
          height={50}
          allowDataOverflow
          tick={{ fontSize: 28, fill: '#000' }}
          tickSize={8}
          tickMargin={6}
          axisLine={false}
          tickLine={{ stroke: '#000', strokeWidth: 2 }}
        />
        <YAxis
          type="number"
          dataKey="y"
          width={100}
          domain={[-0.0007, 0.02088]}
          ticks={[0, 0.005, 0.01, 0.015, 0.02]}
          interval={0}
          allowDataOverflow
          tickFormatter={(v: number) => v.toFixed(3)}
          tick={{ fontSize: 26, fill: '#000' }}
          tickSize={8}
          tickMargin={3}
          axisLine={false}
          tickLine={{ stroke: '#000', strokeWidth: 2 }}
        />
        <Area dataKey="band" fill="#8C8C8C" fillOpacity={0.23} stroke="none" isAnimationActive={false} />
        <Line dataKey="fit" stroke="#000" strokeWidth={3.5} dot={false} activeDot={false} isAnimationActive={false} />
        <Scatter
          data={riskScore.map((x, i) => ({ x, y: compTheta[i] }))}
          isAnimationActive={false}
          shape={(p: any) => <circle cx={p.cx} cy={p.cy} r={3.2} fill="#F0442E" />}
        />
      </ComposedChart>
    </Box>
    <Box l={3198} t={1086}>
      <BarChart width={1011} height={59} margin={ZERO} data={riskHistogram.map((n, i) => ({ i, n }))} barCategoryGap={0}>
        <XAxis dataKey="i" hide />
        <YAxis hide domain={[0, 12]} />
        <Bar dataKey="n" fill="#C2A96C" isAnimationActive={false} />
      </BarChart>
    </Box>
    <Box l={4213} t={1148}>
      <BarChart
        layout="vertical"
        width={60}
        height={710}
        margin={ZERO}
        data={thetaHistogram.map((n, i) => ({ i, n }))}
        barCategoryGap={0}
      >
        <XAxis type="number" hide domain={[0, 12]} />
        <YAxis type="category" dataKey="i" hide />
        <Bar dataKey="n" fill="#C2A96C" isAnimationActive={false} />
      </BarChart>
    </Box>
  </>
);

const DotColumn = () => (
  <Box l={2042} t={2146}>
    <ScatterChart width={222} height={761} margin={ZERO}>
      <XAxis type="number" dataKey="x" domain={[0, 1]} orientation="top" height={2} tick={false} tickLine={false} axisLine={{ stroke: '#000', strokeWidth: 1.5 }} />
      <YAxis
        type="number"
        dataKey="y"
        reversed
        domain={[0, ligands.length]}
        width={100}
        ticks={ligands.map((_, i) => i + 0.5)}
        interval={0}
        tickSize={0}
        tickMargin={4}
        tickLine={false}
        axisLine={{ stroke: '#000', strokeWidth: 1.5 }}
        tick={{ fontSize: 16, fill: '#000' }}
        tickFormatter={(v: number) => ligands[Math.floor(v)].replace('HLA.A', 'HLA\u2212A')}
      />
      <Scatter
        data={ligands.map((_, i) => ({ x: 0.49, y: i + 0.5, pct: percentExpressed[i], expr: averageExpression[i] }))}
        isAnimationActive={false}
        shape={(p: any) => <circle cx={p.cx} cy={p.cy} r={p.payload.pct / 10} fill={exprColor(p.payload.expr)} />}
      />
    </ScatterChart>
  </Box>
);

const T = ({ x, y, s = 28, a = 'start', r, c = '#000', children }: any) => (
  <text
    x={x}
    y={y}
    dy="0.35em"
    fontSize={s}
    textAnchor={a}
    fill={c}
    transform={r ? `rotate(${r} ${x} ${y})` : undefined}
  >
    {children}
  </text>
);

const nodeLabels: [string, number, number][] = [
  ['ANGPTL7+ fibroblast', 2694, 628], ['B_cell', 2682, 480], ['CHST9+ fibroblast', 2619, 347], ['COMP+ fibroblast', 2540, 282],
  ['DIO2+ fibroblast', 2416, 225], ['Endothelial_cells', 2072, 225], ['Epithelial_cells', 1951, 282], ['Monocyte', 1918, 368],
  ['NELL2+ fibroblast', 1779, 455], ['Neurons', 1870, 585], ['Mast cell', 1902, 701], ['PIP5K1B+ fibroblast', 1812, 804],
  ['PLVAP+ fibroblast', 1922, 879], ['RIMS1+ fibroblast', 2050, 947], ['T_cells', 2380, 955], ['TFF3+ fibroblast', 2540, 904],
  ['THEMIS+ fibroblast', 2626, 820], ['Cancer cell', 2685, 711],
];

const Overlay = () => (
  <svg width={4303} height={3221} style={{ position: 'absolute', left: 0, top: 0, pointerEvents: 'none' }}>
    <defs>
      <linearGradient id="strength" x1="0" y1="1" x2="0" y2="0">
        <stop offset="0" stopColor="#FFFFFF" />
        <stop offset="0.25" stopColor="#C6E9E6" />
        <stop offset="0.5" stopColor="#00B799" />
        <stop offset="0.78" stopColor="#007A36" />
        <stop offset="1" stopColor="#003F1C" />
      </linearGradient>
      <linearGradient id="aupr">
        <stop offset="0" stopColor="#F5F5F5" />
        <stop offset="0.3" stopColor="#FFDCC0" />
        <stop offset="1" stopColor="#FF8C00" />
      </linearGradient>
      <linearGradient id="expr" x1="0" y1="1" x2="0" y2="0">
        <stop offset="0" stopColor="#1C70AD" />
        <stop offset="0.3" stopColor="#C5E5F2" />
        <stop offset="0.5" stopColor="#F7F4BC" />
        <stop offset="0.75" stopColor="#FDA95F" />
        <stop offset="1" stopColor="#EE3A24" />
      </linearGradient>
      <linearGradient id="lfc">
        <stop offset="0" stopColor="#5C4A94" />
        <stop offset="0.4" stopColor="#FFFFFF" />
        <stop offset="1" stopColor="#FF0F0F" />
      </linearGradient>
      <linearGradient id="reg">
        <stop offset="0" stopColor="#F5F5F5" />
        <stop offset="0.35" stopColor="#DDB4DA" />
        <stop offset="1" stopColor="#7B3294" />
      </linearGradient>
    </defs>

    {[['A', 22, 88], ['B', 24, 1661], ['C', 1808, 87], ['D', 3122, 87], ['E', 1810, 1074], ['F', 3126, 1074], ['G', 1806, 2005]].map(
      ([k, x, y]) => <T key={k as string} x={x} y={y} s={58} c="#231815">{k}</T>,
    )}

    <T x={796} y={47} a="middle">Outgoing signaling patterns</T>
    <T x={803} y={1640} a="middle">Incoming signaling patterns</T>
    <rect x={1645} y={617} width={29} height={263} fill="url(#strength)" />
    <rect x={1651} y={2235} width={29} height={267} fill="url(#strength)" />
    <T x={1618} y={753} s={26.5} a="middle" r={-90}>Relative strength</T>
    <T x={1621} y={2370} s={26.5} a="middle" r={-90}>Relative strength</T>
    <T x={1685} y={632} s={24}>1</T>
    <T x={1685} y={877} s={24}>0</T>
    <T x={1691} y={2250} s={24}>1</T>
    <T x={1691} y={2497} s={24}>0</T>

    <T x={2387} y={161} s={32} a="middle">BMP signaling pathway network</T>
    {nodeLabels.map(([name, x, y]) => <T key={name} x={x} y={y} s={27.5}>{name}</T>)}

    <rect x={3191} y={163} width={1004} height={629} fill="none" stroke="#000" strokeWidth={3} />
    <rect x={3191} y={792} width={1004} height={83} fill="none" stroke="#000" strokeWidth={3} />
    <T x={3197} y={741} s={28}>p=0.03</T>
    <T x={3197} y={772} s={28}>HR=2.68,95CI%(1.05,6.86)</T>
    <T x={3191} y={806} s={28}>Number at risk</T>
    <T x={3171} y={833} s={28} c={LOW}>L</T>
    <T x={3171} y={860} s={28} c={HIGH}>H</T>
    <T x={4185} y={346} a="end">COMP+ fibroblast</T>
    <rect x={3989} y={368} width={18} height={17} fill={LOW} />
    <rect x={3989} y={396} width={18} height={17} fill={HIGH} />
    <T x={4015} y={377} c={LOW}>L</T>
    <T x={4015} y={405} c={HIGH}>H</T>
    <T x={3650} y={947} a="middle">follow-up time (met, months):ch1</T>
    <T x={3102} y={532} a="middle" r={-90}>Survival probability</T>

    <rect x={1887} y={1139} width={961} height={727} fill="none" stroke="#111" strokeWidth={3} />
    <T x={2395} y={1162} a="middle">**</T>
    <T x={2374} y={1205} a="middle">*</T>
    <T x={2474} y={1236} a="middle">ns</T>
    <T x={2251} y={1281} a="middle">**</T>
    <T x={2585} y={1318} a="middle">ns</T>
    <T x={2362} y={1366} a="middle">**</T>
    <T x={2143} y={1394} a="middle">ns</T>
    <T x={2859} y={1151} s={24}>t-stage:ch1</T>
    {tStages.map((t, i) => (
      <g key={t}>
        <circle cx={2869} cy={1188 + i * 40.5} r={10.5} fill={stageStroke[i]} />
        <T x={2884} y={1190 + i * 40.5} s={24}>{t}</T>
      </g>
    ))}
    <T x={2322} y={1906} a="middle">COMP+fibroblast</T>
    <T x={1779} y={1483} s={26} a="middle" r={-90}>theta</T>

    <rect x={3198} y={1148} width={1011} height={710} fill="none" stroke="#000" strokeWidth={3} />
    <text x={3207} y={1176} fontSize={27}>
      -: p=1.6 × 10<tspan dy={-10} fontSize={19}>−13</tspan><tspan dy={10} dx={14}>r=0.44</tspan>
    </text>
    <T x={3679} y={1929} a="middle">riskscore</T>
    <T x={3075} y={1545} a="middle" r={-90}>COMP+ fibroblast</T>

    <T x={1934} y={2042} s={23.5}>Ligand activity  Expression in Sender  LFC in Sender</T>
    <T x={3377} y={2043} s={25} a="middle">Predicted target genes</T>
    <T x={2019} y={2139} s={19.5} r={-90}>AUPR</T>
    <T x={2182} y={2139} s={20} r={-90}>NELL2+</T>
    <T x={2207} y={2139} s={20} r={-90}>fibroblast</T>
    <T x={1878} y={2514} s={27.5} a="middle" r={-90}>Prioritized ligands</T>

    <T x={1922} y={2969} s={24}>AUPR</T>
    <T x={1922} y={2999} s={24}>(target gene prediction ability)</T>
    <rect x={1930} y={3027} width={187} height={37} fill="url(#aupr)" />
    {[['0.02', 1950], ['0.03', 2005], ['0.04', 2060], ['0.05', 2117]].map(([t, x]) => (
      <T key={t} x={x} y={3082} s={24} a="middle">{t}</T>
    ))}
    <T x={2283} y={2999} s={24}>Percent Expressed</T>
    {[[25, 3040, 5.5, 3045], [50, 3073, 9, 3078], [75, 3107, 13, 3112]].map(([n, cy, r, ty]) => (
      <g key={n}>
        <circle cx={2299} cy={cy} r={r} fill="#000" />
        <T x={2331} y={ty} s={24}>{n}</T>
      </g>
    ))}
    <T x={2531} y={2999} s={24}>Average Expression</T>
    <rect x={2531} y={3025} width={34} height={167} fill="url(#expr)" />
    {[['3', 3065], ['2', 3108], ['1', 3150]].map(([t, y]) => <T key={t} x={2581} y={y} s={24}>{t}</T>)}
    <T x={2805} y={3003} s={24}>LFC</T>
    <rect x={2803} y={3021} width={173} height={34} fill="url(#lfc)" />
    {[['\u22122.5', 2820], ['0.0', 2872], ['2.5', 2924], ['5.0', 2976]].map(([t, x]) => (
      <T key={t} x={x} y={3071} s={24} a="middle">{t}</T>
    ))}
    <T x={3068} y={3003} s={24}>Regulatory potential</T>
    <rect x={3073} y={3017} width={187} height={38} fill="url(#reg)" />
    {[['0.0', 3076], ['0.1', 3138], ['0.2', 3200], ['0.3', 3262]].map(([t, x]) => (
      <T key={t} x={x} y={3072} s={24} a="middle">{t}</T>
    ))}
  </svg>
);

export default function App() {
  // the browser window can come out narrower than the 4303 px asked for, so fit the layout to it
  const fit = Math.min(1, window.innerWidth / 4303);
  return (
    <div
      style={{
        position: 'absolute',
        left: 0,
        top: 0,
        width: 4303,
        height: 3221,
        background: '#fff',
        fontFamily: FONT,
        overflow: 'hidden',
        transform: `scale(${fit}, 1)`,
        transformOrigin: '0 0',
      }}
    >
      <style>{'svg{overflow:visible}'}</style>
      <TotalsBars plotLeft={121.5} plotRight={1452} top={73} zero={206} max={35.6} values={outgoingTotals} ticks={[0, 10, 20, 30]} />
      <CellChart l={0} t={220} w={1452} h={1060} labelW={121.5} rows={pathways} cols={18} cells={levelCells(outgoingRows)} />
      <PathwayBars x0={1467} top={220} height={1060} values={outgoingPathwayTotals} />
      <TypeStrip plotLeft={121.5} plotRight={1452} top={1292} />

      <TotalsBars plotLeft={125} plotRight={1458} top={1688} zero={1822} max={27.9} values={incomingTotals} ticks={[0, 10, 20]} />
      <CellChart l={0} t={1838} w={1458} h={1063} labelW={125} rows={pathways} cols={18} cells={levelCells(incomingRows)} />
      <PathwayBars x0={1471} top={1838} height={1060} values={incomingPathwayTotals} />
      <TypeStrip plotLeft={125} plotRight={1458} top={2911} />

      <NetworkChart />
      <SurvivalChart />
      <ThetaChart />
      <CorrelationChart />

      <CellChart
        l={1884}
        t={2148}
        w={180}
        h={757}
        labelW={100}
        rows={ligands}
        cols={1}
        gap={1.5}
        font={16}
        cells={auprValues.map((v, i) => ({ x: 0.5, y: i + 0.5, fill: auprColor(v) }))}
      />
      <DotColumn />
      <CellChart
        l={2245}
        t={2148}
        w={220}
        h={757}
        labelW={100}
        rows={ligands}
        cols={1}
        gap={1.5}
        font={16}
        cells={lfcValues.map((v, i) => ({ x: 0.5, y: i + 0.5, fill: lfcColor(v) }))}
      />
      <CellChart
        l={2448}
        t={2035}
        w={1763}
        h={870}
        labelW={100}
        headH={114}
        rows={ligands}
        cols={73}
        gap={1.2}
        font={16}
        colNames={targetGenes}
        cells={regulatoryCells}
      />
      <Overlay />
    </div>
  );
}
